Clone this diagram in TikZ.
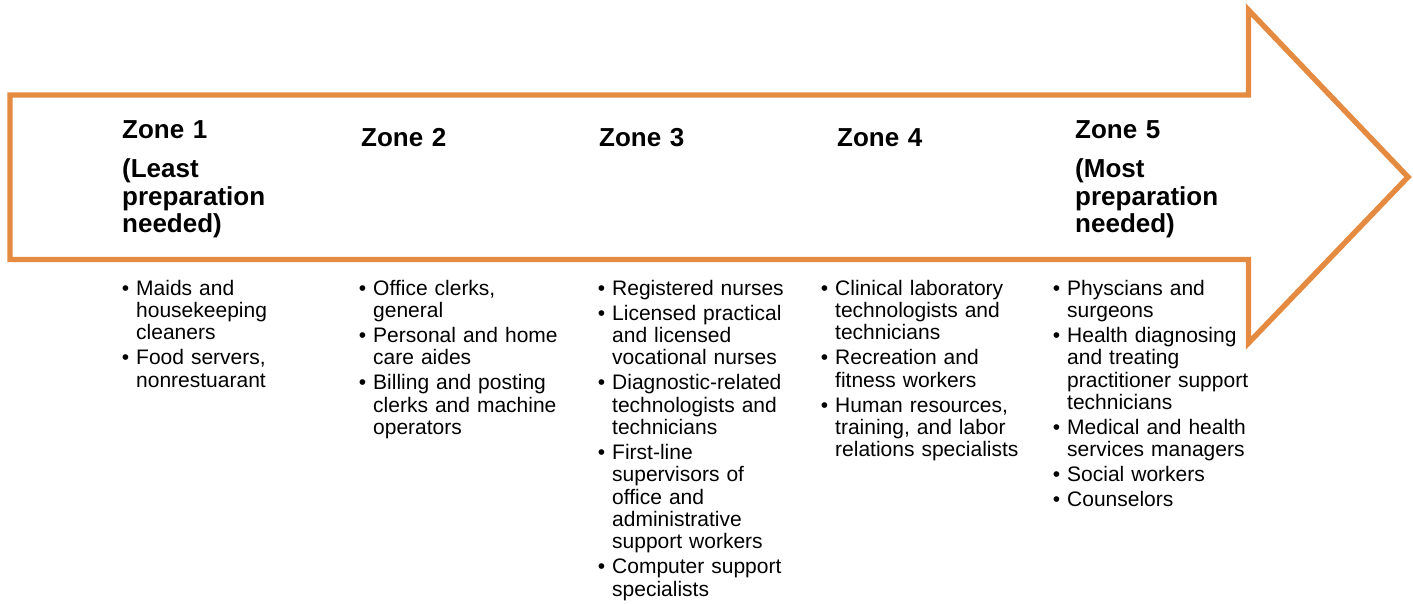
\documentclass[tikz,border=0pt]{standalone}
\usepackage{fontspec}
\setmainfont{Liberation Sans}

\definecolor{zoneorange}{RGB}{228,139,65}

% one bullet item of a zone list
\newcommand{\job}[1]{\noindent\llap{\textbullet\hspace{7pt}}#1\par\vspace{2.8pt}}

\begin{document}
\begin{tikzpicture}[%
    x=1pt,
    y=-1pt,
    zone/.style={anchor=base west, inner sep=0pt, text width=200pt, align=left,
      font=\fontsize{26}{27.5}\selectfont\bfseries},
    jobs/.style={anchor=base west, inner sep=0pt, text width=215pt, align=left,
      font=\fontsize{21}{22.3}\selectfont},
    arrowline/.style={draw=zoneorange, line width=5.4pt, miter limit=20}
  ]
  \useasboundingbox (0,0) rectangle (1413,603);

  % the big arrow
  \coordinate (tail top) at (10,95);
  \coordinate (tail bot) at (10,259.5);
  \coordinate (tip) at (1408,177);
  \draw[arrowline] (tail top) -- (1248.5,95) -- (1248.5,10) -- (tip)
    -- (1248.5,343) -- (1248.5,259.5) -- (tail bot) -- cycle;

  % headings
  \node[zone] (z1) at (122,138) {Zone 1\\[12pt](Least\\preparation\\needed)};
  \node[zone] (z2) at (361,146) {Zone 2};
  \node[zone] (z3) at (599,146) {Zone 3};
  \node[zone] (z4) at (837,146) {Zone 4};
  \node[zone] (z5) at (1075,138) {Zone 5\\[12pt](Most\\preparation\\needed)};

  % occupations
  \node[jobs] (l1) at (136,295) {%
    \job{Maids and\newline housekeeping\newline cleaners}
    \job{Food servers,\newline nonrestuarant}};
  \node[jobs] (l2) at (373,295) {%
    \job{Office clerks,\newline general}
    \job{Personal and home\newline care aides}
    \job{Billing and posting\newline clerks and machine\newline operators}};
  \node[jobs] (l3) at (612,295) {%
    \job{Registered nurses}
    \job{Licensed practical\newline and licensed\newline vocational nurses}
    \job{Diagnostic-related\newline technologists and\newline technicians}
    \job{First-line\newline supervisors of\newline office and\newline administrative\newline support workers}
    \job{Computer support\newline specialists}};
  \node[jobs] (l4) at (835,295) {%
    \job{Clinical laboratory\newline technologists and\newline technicians}
    \job{Recreation and\newline fitness workers}
    \job{Human resources,\newline training, and labor\newline relations specialists}};
  \node[jobs] (l5) at (1067,295) {%
    \job{Physcians and\newline surgeons}
    \job{Health diagnosing\newline and treating\newline practitioner support\newline technicians}
    \job{Medical and health\newline services managers}
    \job{Social workers}
    \job{Counselors}};

\end{tikzpicture}
\end{document}
